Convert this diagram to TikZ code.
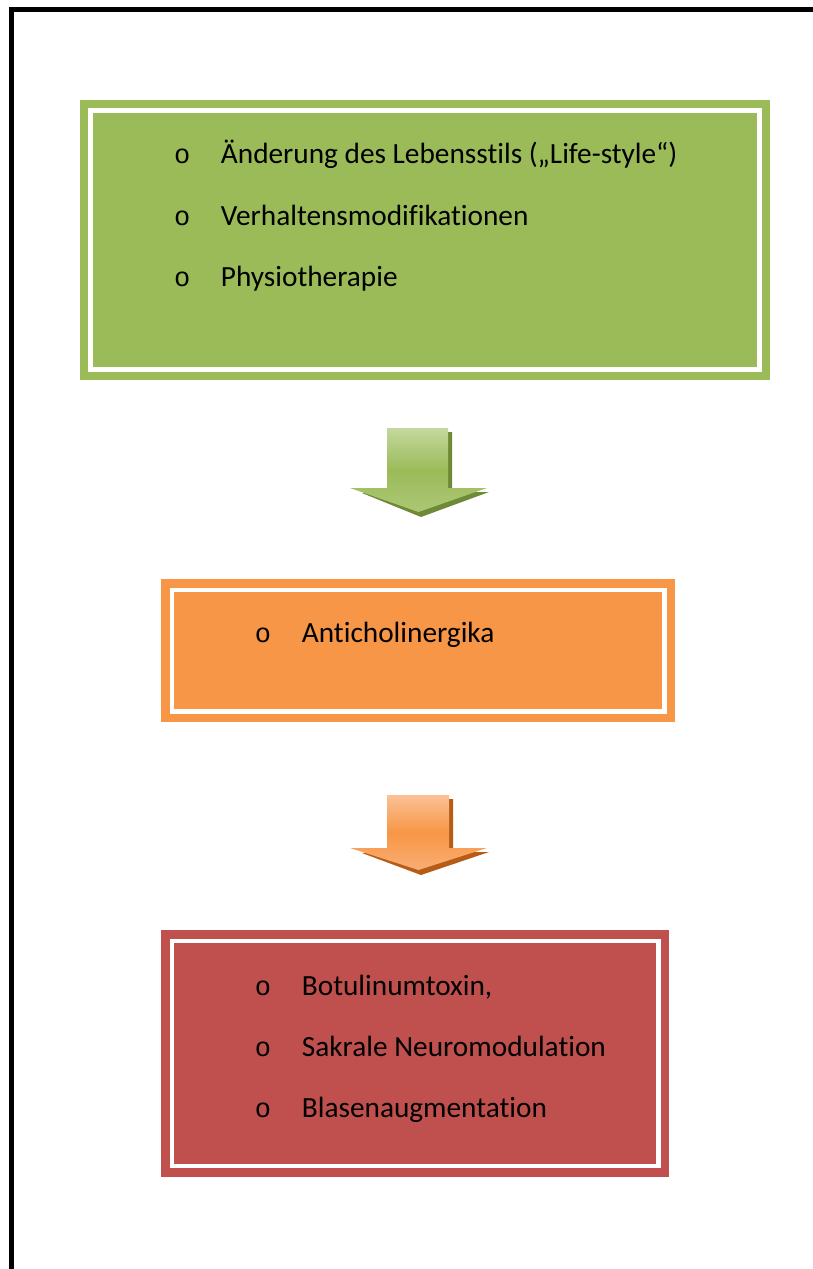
\documentclass[tikz,border=0pt]{standalone}
\usepackage{fontspec}
\setmainfont{Carlito}[Ligatures=NoCommon]
\newfontfamily\bulletfont{Liberation Mono}
\definecolor{boxgreen}{HTML}{9BBB59}
\definecolor{boxorange}{HTML}{F79646}
\definecolor{boxred}{HTML}{C0504D}
\definecolor{greenlight}{HTML}{C4D89E}
\definecolor{greenhead}{HTML}{ADC776}
\definecolor{greenshadow}{HTML}{6F8A37}
\definecolor{orangelight}{HTML}{FBC195}
\definecolor{orangehead}{HTML}{F9AE74}
\definecolor{orangeshadow}{HTML}{B65C16}
\begin{document}
\begin{tikzpicture}[x=1pt,y=-1pt]
            \tikzstyle{every node}+=[inner sep=0pt, font=\fontsize{29.3}{35}\selectfont]
            \tikzstyle{item}=[anchor=base west]
            \tikzstyle{dot}=[anchor=base, font=\bulletfont\fontsize{27}{32}\selectfont]
            \tikzstyle{frame}=[draw=white, line width=4.5pt]
            \useasboundingbox (0,0) rectangle (813,1269);
            % page border
            \draw [black, line width=5pt] (11.4,1269) -- (11.4,9.4) -- (813,9.4);
            % box 1
            \node [fill=boxgreen, minimum width=690pt, minimum height=280pt] (gruen) at (425,240) {};
            \draw [frame] ([shift={(10.5,10.5)}]gruen.north west) rectangle ([shift={(-10.5,-10.5)}]gruen.south east);
            \node [dot] (g1) at (182.3,163.3) {o};
            \node [item] (life) at (220.7,163.3) {Änderung des Lebensstils („Life-style“)};
            \node [dot] (g2) at (182.3,225) {o};
            \node [item] (verhalten) at (220.7,225) {Verhaltensmodifikationen};
            \node [dot] (g3) at (182.3,286.7) {o};
            \node [item] (physio) at (220.7,286.7) {Physiotherapie};
            % arrow 1
            \fill [greenshadow] (391,432) -- (452,432) -- (452,492) -- (489,492) -- (421,517) -- (362,493) -- (391,493) -- cycle;
            \shade [top color=greenlight, bottom color=greenhead, middle color=boxgreen] (387,428) -- (448,428) -- (448,488) -- (487,488) -- (418.5,512) -- (350,488) -- (387,488) -- cycle;
            % box 2
            \node [fill=boxorange, minimum width=514.3pt, minimum height=143.3pt] (orange) at (418.2,650.7) {};
            \draw [frame] ([shift={(11,11)}]orange.north west) rectangle ([shift={(-11,-11)}]orange.south east);
            \node [dot] (o1) at (263,642.7) {o};
            \node [item] (anti) at (301.7,642.7) {Anticholinergika};
            % arrow 2
            \fill [orangeshadow] (391,799) -- (453,799) -- (453,852) -- (489,852) -- (421,875) -- (362,853) -- (391,853) -- cycle;
            \shade [top color=orangelight, bottom color=orangehead, middle color=boxorange] (387,795) -- (449,795) -- (449,848) -- (487,848) -- (418.5,870) -- (350,848) -- (387,848) -- cycle;
            % box 3
            \node [fill=boxred, minimum width=508.3pt, minimum height=246.7pt] (rot) at (415.2,1053.3) {};
            \draw [frame] ([shift={(11,11)}]rot.north west) rectangle ([shift={(-11,-11)}]rot.south east);
            \node [dot] (r1) at (263,995) {o};
            \node [item] (botu) at (301.7,995) {Botulinumtoxin,};
            \node [dot] (r2) at (263,1056) {o};
            \node [item] (sakral) at (301.7,1056) {Sakrale Neuromodulation};
            \node [dot] (r3) at (263,1117.5) {o};
            \node [item] (blase) at (301.7,1117.5) {Blasenaugmentation};
\end{tikzpicture}
\end{document}
